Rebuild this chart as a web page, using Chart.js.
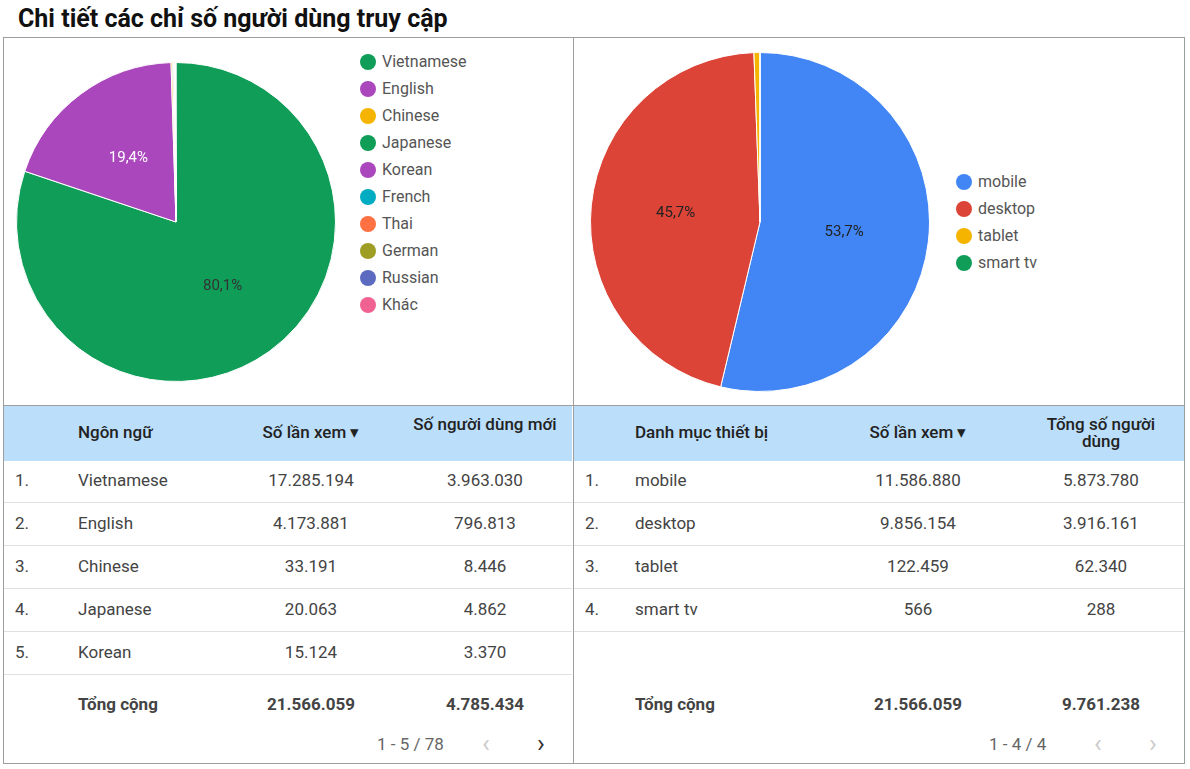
<!DOCTYPE html>
<html><head><meta charset="utf-8">
<script src="https://cdn.jsdelivr.net/npm/chart.js@4"></script>
<style>
body{margin:0;width:1190px;height:769px;background:#fff;font-family:Roboto,sans-serif;color:#333;position:relative;overflow:hidden}
h1{position:absolute;left:18px;top:4px;margin:0;font-size:25px;font-weight:bold;color:#111}
.box{position:absolute;border:1px solid #9e9e9e;box-sizing:border-box}
.leg{position:absolute;font-size:16px;color:#555}
.leg div{height:27px;line-height:27px;display:flex;align-items:center}
.leg span{display:inline-block;width:16px;height:16px;border-radius:50%;margin-right:6px}
.t{position:absolute;font-size:17px;color:#444}
.hdr{position:absolute;background:#bbdefb;height:55px}
.c{position:absolute;white-space:nowrap}
.line{position:absolute;height:1px;background:#e0e0e0}
</style></head><body>
<h1>Chi tiết các chỉ số người dùng truy cập</h1>
<div class="box" style="left:3px;top:37px;width:571px;height:369px"></div>
<div class="box" style="left:573px;top:37px;width:612px;height:369px"></div>
<div class="box" style="left:3px;top:405px;width:571px;height:359px"></div>
<div class="box" style="left:573px;top:405px;width:612px;height:359px"></div>
<canvas id="pie1" style="position:absolute;left:16px;top:62px" width="320" height="320"></canvas>
<canvas id="pie2" style="position:absolute;left:590px;top:52px" width="340" height="340"></canvas>
<div id="leg1" class="leg" style="left:360px;top:48px"></div>
<div id="leg2" class="leg" style="left:956px;top:168px"></div>
<div id="tables"></div>
<script>
const langLabels = ['Vietnamese','English','Chinese','Japanese','Korean','French','Thai','German','Russian','Khác'];
const langViews = [17285194,4173881,33191,20063,15124,9000,7000,6000,5000,11606];
const langColors = ['#0f9d58','#ab47bc','#f4b400','#0f9d58','#ab47bc','#00acc1','#ff7043','#9e9d24','#5c6bc0','#f06292'];
const langNewUsers = [3963030,796813,8446,4862,3370];
const devLabels = ['mobile','desktop','tablet','smart tv'];
const devViews = [11586880,9856154,122459,566];
const devUsers = [5873780,3916161,62340,288];
const devColors = ['#4285f4','#db4437','#f4b400','#0f9d58'];

const fmt = v => v.toLocaleString('de-DE');

const pctLabels = {
	id:'pctLabels',
	afterDatasetsDraw(chart){
		const ctx = chart.ctx;
		const data = chart.data.datasets[0].data;
		const total = data.reduce((a,b)=>a+b,0);
		chart.getDatasetMeta(0).data.forEach((arc,i)=>{
			const p = data[i]/total*100;
			if(p < 5) return;
			const pos = arc.tooltipPosition();
			ctx.save();
			ctx.font = '15px Roboto';
			ctx.fillStyle = chart.options.labelColors[i];
			ctx.textAlign = 'center';
			ctx.textBaseline = 'middle';
			ctx.fillText(p.toFixed(1).replace('.',',')+'%', pos.x, pos.y);
			ctx.restore();
		});
	}
};

function pie(id, labels, values, colors, labelColors){
	new Chart(document.getElementById(id), {
		type:'pie',
		data:{labels:labels,datasets:[{data:values,backgroundColor:colors,borderColor:'#fff',borderWidth:1}]},
		options:{responsive:false,animation:false,labelColors:labelColors,
			plugins:{legend:{display:false},tooltip:{enabled:false}}},
		plugins:[pctLabels]
	});
}
pie('pie1', langLabels, langViews, langColors, ['#333','#fff']);
pie('pie2', devLabels, devViews, devColors, ['#222','#222']);

function legend(id, labels, colors){
	document.getElementById(id).innerHTML = labels.map((l,i)=>
		`<div><span style="background:${colors[i]}"></span>${l}</div>`).join('');
}
legend('leg1', langLabels, langColors);
legend('leg2', devLabels, devColors);

function table(x, w, cols, rows, total, pager){
	let h = `<div class="hdr" style="left:${x}px;top:406px;width:${w}px"></div>`;
	cols.forEach(c=>{
		h += `<div class="t c" style="left:${c.x}px;top:${c.ht}px;width:${c.w}px;text-align:${c.al};font-weight:500;color:#222;line-height:17px;white-space:normal">${c.name}</div>`;
	});
	rows.forEach((r,i)=>{
		const y = 470 + i*43;
		h += `<div class="t c" style="left:${x+11}px;top:${y}px">${i+1}.</div>`;
		r.forEach((v,j)=>{
			const c = cols[j];
			h += `<div class="t c" style="left:${c.x}px;top:${y}px;width:${c.w}px;text-align:${c.al}">${v}</div>`;
		});
		h += `<div class="line" style="left:${x}px;top:${y+32}px;width:${w}px"></div>`;
	});
	total.forEach((v,j)=>{
		const c = cols[j];
		h += `<div class="t c" style="left:${c.x}px;top:694px;width:${c.w}px;text-align:${c.al};font-weight:bold">${v}</div>`;
	});
	h += `<div class="t c" style="left:${x+w-195}px;top:734px;color:#666">${pager}</div>`;
	h += `<div class="c" style="left:${x+w-90}px;top:728px;font-size:26px;color:#ccc">&#x2039;</div>`;
	h += `<div class="c" style="left:${x+w-35}px;top:728px;font-size:26px;color:${pager.startsWith('1 - 5')?'#333':'#ccc'}">&#x203A;</div>`;
	return h;
}

let html = '';
html += table(4, 568, [
	{name:'Ngôn ngữ',x:78,w:150,al:'left',ht:424},
	{name:'Số lần xem &#x25BE;',x:236,w:150,al:'center',ht:424},
	{name:'Số người dùng mới',x:410,w:150,al:'center',ht:416}
], langLabels.slice(0,5).map((l,i)=>[l,fmt(langViews[i]),fmt(langNewUsers[i])]),
	['Tổng cộng','21.566.059','4.785.434'], '1 - 5 / 78');
html += table(574, 610, [
	{name:'Danh mục thiết bị',x:635,w:180,al:'left',ht:424},
	{name:'Số lần xem &#x25BE;',x:843,w:150,al:'center',ht:424},
	{name:'Tổng số người dùng',x:1036,w:130,al:'center',ht:416}
], devLabels.map((l,i)=>[l,fmt(devViews[i]),fmt(devUsers[i])]),
	['Tổng cộng','21.566.059','9.761.238'], '1 - 4 / 4');
document.getElementById('tables').innerHTML = html;
</script>
</body></html>
